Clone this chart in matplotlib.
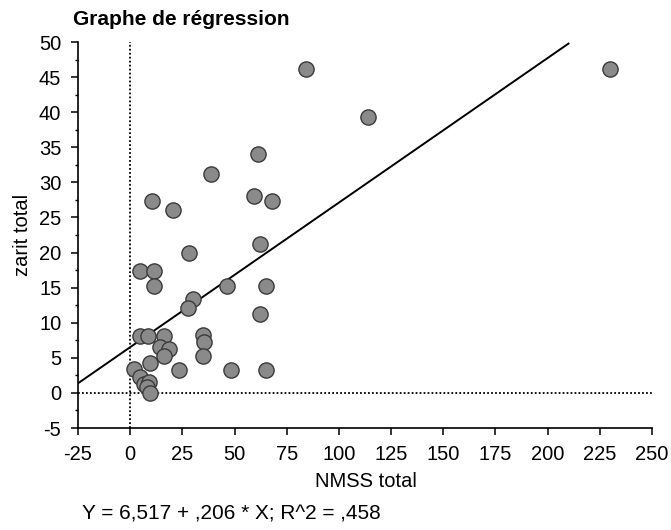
import matplotlib
matplotlib.use("Agg")
import matplotlib.pyplot as plt
from matplotlib.ticker import MultipleLocator
import numpy as np

plt.rcParams["font.family"] = ["Liberation Sans", "DejaVu Sans"]
plt.rcParams["axes.unicode_minus"] = False

# data
nmss = [230, 84, 114, 61, 38.7, 59.4, 67.9, 10.4, 20.6, 28.3,
        62.3, 4.5, 11.2, 11.2, 46.2, 65, 30.2, 27.9, 62.3, 4.5,
        8.3, 16, 14.4, 18.4, 16, 35.1, 35.5, 35.1, 9.6, 23.5,
        48.2, 65, 1.6, 4.8, 6.4, 8.8, 8, 9.6]
zarit = [46.2, 46.1, 39.3, 34.1, 31.2, 28.1, 27.3, 27.3, 26.1, 20.0,
         21.2, 17.3, 17.3, 15.3, 15.3, 15.3, 13.4, 12.1, 11.2, 8.1,
         8.1, 8.1, 6.5, 6.2, 5.3, 8.2, 7.2, 5.2, 4.2, 3.2,
         3.2, 3.2, 3.4, 2.2, 1.2, 1.5, 0.8, 0.0]

intercept = 6.517
slope = 0.206
fit_range = [-25, 210]

x_ticks = list(range(-25, 251, 25))
y_ticks = list(range(-5, 51, 5))

title = "Graphe de régression"
equation = "Y = 6,517 + ,206 * X; R^2 = ,458"

W, H = 671, 530
fig = plt.figure(figsize=(W / 100, H / 100), dpi=100)
ax = fig.add_axes([78 / W, 1 - 428 / H, 574 / W, 386 / H])

ax.set_xlim(-25, 250)
ax.set_ylim(-5, 50)

# reference lines at zero
ax.axvline(0, color="black", lw=1.3, ls=(0, (1, 1.2)), zorder=1)
ax.axhline(0, color="black", lw=1.3, ls=(0, (1, 1.2)), zorder=1)

# regression line
xf = np.array(fit_range)
ax.plot(xf, intercept + slope * xf, color="black", lw=1.4, zorder=2)

ax.scatter(nmss, zarit, s=120, facecolor="#8a8a8a", edgecolor="#3a3a3a",
           linewidth=1.0, zorder=3)

for side in ["top", "right"]:
    ax.spines[side].set_visible(False)
for side in ["left", "bottom"]:
    ax.spines[side].set_linewidth(1.2)

ax.set_xticks(x_ticks)
ax.set_yticks(y_ticks)
ax.yaxis.set_minor_locator(MultipleLocator(2.5))
ax.tick_params(axis="both", which="major", direction="out", length=5,
               width=1.1, labelsize=14.5, pad=7)
ax.tick_params(axis="y", which="minor", direction="out", length=2.5, width=1.0)

fig.text(366 / W, 1 - 487 / H, "NMSS total", fontsize=14.5,
         ha="center", va="baseline")
fig.text(22 / W, 1 - 235 / H, "zarit total", fontsize=14.5,
         rotation=90, ha="center", va="center")

fig.text(73 / W, 1 - 25 / H, title, fontsize=15, fontweight="bold",
         va="baseline", ha="left")
fig.text(82 / W, 1 - 520 / H, equation, fontsize=15, va="baseline", ha="left")

fig.savefig("out.png", dpi=100)
